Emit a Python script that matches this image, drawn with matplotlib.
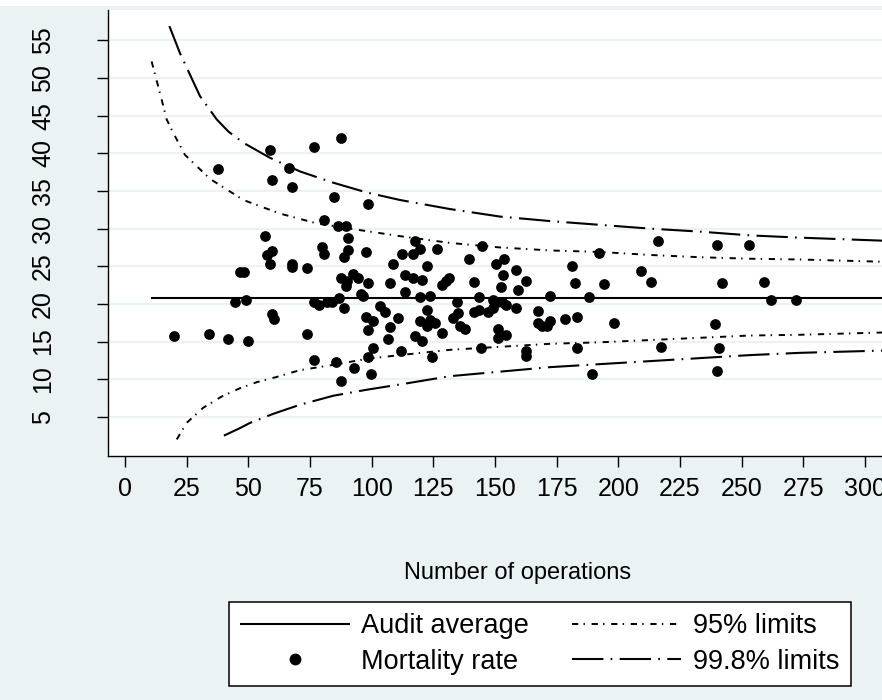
import matplotlib
matplotlib.use("Agg")
import matplotlib.pyplot as plt
from matplotlib.lines import Line2D
from matplotlib.patches import Rectangle

plt.rcParams['font.family'] = ['Liberation Sans', 'DejaVu Sans']
plt.rcParams['lines.scale_dashes'] = False

# ---------------- data ----------------
operations = [87.7, 76.7, 58.8, 37.8, 66.6, 59.7, 67.7, 84.8, 98.6, 80.7,
              86.5, 89.6, 90.5, 56.7, 79.7, 80.8, 59.7, 57.7, 90.5, 88.6,
              97.6, 58.8, 67.7, 67.7, 73.7, 108.5, 46.6, 48.2, 87.6, 92.5,
              94.6, 89.9, 89.6, 98.6, 107.5, 44.6, 48.9, 76.7, 78.6, 81.8,
              83.8, 86.6, 95.7, 96.6, 88.6, 59.7, 60.5, 103.4, 105.4, 97.6,
              100.6, 98.6, 110.8, 107.5, 106.7, 19.9, 33.9, 41.9, 49.9, 73.7,
              100.6, 98.6, 111.9, 76.7, 85.7, 92.7, 99.7, 87.7,
              117.6, 119.6, 116.6, 126.3, 112.4, 122.5, 139.4, 144.6, 150.4, 153.5,
              153.3, 158.4, 152.4, 162.4, 159.4, 181.1, 192.3, 182.4, 194.2, 209.2,
              213.4, 113.5, 116.6, 120.3, 113.5, 128.6, 130.1, 131.5, 141.5, 119.6,
              123.6, 134.5, 143.5, 149.3, 150.7, 152.7, 154.4, 172.3, 188.1, 122.5,
              119.6, 122.5, 123.6, 125.7, 128.4, 133.1, 135.1, 135.8, 137.8, 141.5,
              143.6, 147.3, 149.0,
              158.4, 167.5, 167.3, 168.9, 171.2, 172.3, 178.4, 183.1, 198.2, 117.6,
              120.3, 151.3, 151.3, 154.3, 124.6, 144.3, 162.4, 162.4, 183.1, 189.4,
              216.2, 240.1, 253.1,
              242.1, 258.9, 261.9, 271.9, 239.0, 217.1, 240.9, 240.0]
mortality = [42.0, 40.8, 40.5, 37.9, 38.1, 36.5, 35.5, 34.2, 33.3, 31.2,
             30.3, 30.3, 28.7, 29.0, 27.6, 26.6, 27.0, 26.5, 27.1, 26.2,
             26.9, 25.3, 25.3, 24.9, 24.8, 25.3, 24.3, 24.3, 23.4, 24.0,
             23.4, 23.0, 22.4, 22.8, 22.8, 20.3, 20.5, 20.2, 19.9, 20.3,
             20.2, 20.8, 21.3, 21.0, 19.4, 18.7, 18.0, 19.7, 18.9, 18.3,
             17.7, 16.6, 18.1, 16.9, 15.3, 15.7, 16.0, 15.3, 15.1, 16.0,
             14.1, 12.9, 13.7, 12.6, 12.3, 11.5, 10.7, 9.8,
             28.4, 27.3, 26.6, 27.3, 26.6, 25.0, 26.0, 27.7, 25.3, 25.9,
             23.8, 24.5, 22.3, 23.0, 21.9, 25.1, 26.8, 22.8, 22.7, 24.4,
             22.9, 23.9, 23.4, 23.2, 21.6, 22.5, 23.1, 23.4, 22.9, 20.9,
             21.1, 20.2, 20.9, 20.5, 20.2, 20.3, 19.9, 21.0, 20.9, 19.2,
             17.7, 17.1, 17.9, 17.4, 16.1, 18.1, 18.8, 17.1, 16.7, 18.9,
             19.2, 18.9, 19.5,
             19.5, 19.1, 17.4, 17.0, 17.1, 17.7, 18.0, 18.2, 17.5, 15.7,
             15.1, 16.7, 15.5, 15.9, 12.9, 14.1, 13.7, 13.1, 14.1, 10.7,
             28.4, 27.8, 27.8,
             22.8, 22.9, 20.5, 20.5, 17.3, 14.3, 14.2, 11.1]

audit_average = 20.8
audit_n = [11, 315]

upper998_n = [18.0, 22.3, 30.4, 37.2, 41.9, 48.0, 58.8, 70.9, 84.4, 98.0,
              111.5, 131.7, 152.0, 172.3, 192.5, 212.8, 233.1, 253.3, 273.6, 307]
upper998_r = [56.9, 53.3, 47.6, 44.5, 42.9, 41.4, 39.4, 37.6, 36.1, 34.8,
              33.8, 32.6, 31.6, 31.0, 30.5, 30.0, 29.6, 29.1, 28.8, 28.4]
upper95_n = [10.8, 14.9, 16.9, 19.6, 24.3, 34.5, 48.0, 62.8, 77.7, 91.2,
             111.5, 131.7, 152.0, 172.3, 192.5, 212.8, 233.1, 253.3, 273.6, 307]
upper95_r = [52.2, 47.1, 44.5, 42.7, 39.8, 36.6, 33.8, 32.0, 30.7, 30.0,
             29.0, 28.1, 27.5, 27.1, 26.9, 26.5, 26.2, 26.0, 25.9, 25.6]
lower95_n = [21.0, 25.0, 31.7, 39.2, 46.6, 53.4, 61.5, 70.9, 84.4, 98.0,
             111.5, 131.7, 152.0, 172.3, 192.5, 212.8, 233.1, 253.3, 273.6, 307]
lower95_r = [2.0, 4.2, 6.2, 7.7, 8.8, 9.6, 10.3, 11.2, 11.9, 12.7,
             13.2, 13.9, 14.3, 14.7, 14.9, 15.2, 15.5, 15.8, 15.9, 16.2]
lower998_n = [40.1, 46.6, 50.7, 60.1, 70.9, 84.4, 98.0, 111.5, 131.7, 152.0,
              172.3, 192.5, 212.8, 233.1, 253.3, 273.6, 307]
lower998_r = [2.5, 3.5, 4.2, 5.4, 6.6, 7.8, 8.6, 9.3, 10.4, 11.0,
              11.6, 12.0, 12.4, 12.8, 13.2, 13.5, 13.8]

x_ticks = list(range(0, 301, 25))
y_ticks = list(range(5, 56, 5))
x_title = "Number of operations"
legend_labels = ["Audit average", "Mortality rate", "95% limits", "99.8% limits"]

# ---------------- styling ----------------
BG = '#EAF2F3'
W_PX, H_PX = 882, 700
FS_TICK = 18
FS_TITLE = 17
FS_LEG = 19.5

fig = plt.figure(figsize=(W_PX / 100, H_PX / 100), dpi=100, facecolor=BG)
fig.patches.append(Rectangle((0, 1 - 6 / H_PX), 1, 6 / H_PX, transform=fig.transFigure,
                             facecolor='white', edgecolor='none', zorder=0))

left_px, right_px, top_px, bottom_px = 107.7, 902, 9.5, 456
ax = fig.add_axes([left_px / W_PX, 1 - bottom_px / H_PX,
                   (right_px - left_px) / W_PX, (bottom_px - top_px) / H_PX])
ax.set_facecolor('white')
ax.set_xlim(-7, 315)
ax.set_ylim(-0.2, 59.1)

ax.set_axisbelow(True)
ax.yaxis.grid(True, color=BG, lw=1.6)
ax.xaxis.grid(False)
for s in ['top', 'right']:
    ax.spines[s].set_visible(False)
for s in ['left', 'bottom']:
    ax.spines[s].set_color('black')
    ax.spines[s].set_linewidth(1.0)

ax.set_xticks(x_ticks)
ax.set_xticklabels([str(v) for v in x_ticks])
ax.set_yticks(y_ticks)
ax.set_yticklabels([str(v) for v in y_ticks], rotation=90, va='center')
ax.tick_params(axis='x', direction='out', length=8, width=1, labelsize=FS_TICK, pad=7)
ax.tick_params(axis='y', direction='out', length=8, width=1, labelsize=FS_TICK, pad=30)

dash95 = (0, (4.5, 3.8, 1.0, 4.8))
dash998 = (0, (22.6, 5.2, 1.2, 5.3))

ax.plot(audit_n, [audit_average] * len(audit_n), color='black', lw=1.5, zorder=3)
ax.plot(upper95_n, upper95_r, color='black', lw=1.4, linestyle=dash95, zorder=3)
ax.plot(lower95_n, lower95_r, color='black', lw=1.4, linestyle=dash95, zorder=3)
ax.plot(upper998_n, upper998_r, color='black', lw=1.5, linestyle=dash998, zorder=3)
ax.plot(lower998_n, lower998_r, color='black', lw=1.5, linestyle=dash998, zorder=3)
ax.scatter(operations, mortality, s=60, color='black', zorder=4, linewidths=0)

fig.text(518 / W_PX, 1 - 573 / H_PX, x_title, ha='center', va='center', fontsize=FS_TITLE)

handles = [Line2D([], [], color='black', lw=1.5),
           Line2D([], [], color='black', marker='o', linestyle='none', markersize=7.5),
           Line2D([], [], color='black', lw=1.4, linestyle=dash95),
           Line2D([], [], color='black', lw=1.5, linestyle=dash998)]
leg = fig.legend(handles, legend_labels, ncol=2, loc='center',
                 bbox_to_anchor=(540 / W_PX, 1 - 644 / H_PX), fontsize=FS_LEG,
                 frameon=True, fancybox=False, edgecolor='black', facecolor='white',
                 framealpha=1, handlelength=4.0, handletextpad=0.45,
                 columnspacing=1.6, borderpad=0.42, labelspacing=0.36,
                 borderaxespad=0)
leg.get_frame().set_linewidth(1.1)

fig.savefig('out.png', dpi=100, facecolor=BG)
